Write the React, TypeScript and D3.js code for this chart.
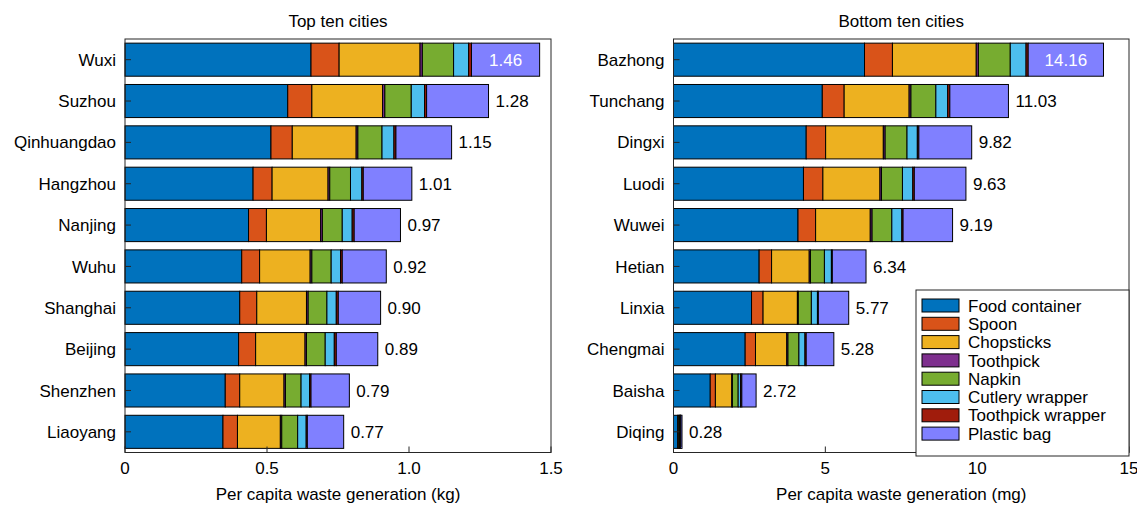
import React from "react";
import * as d3 from "d3";

// Waste categories, in stacking order
const categories = [
  "Food container",
  "Spoon",
  "Chopsticks",
  "Toothpick",
  "Napkin",
  "Cutlery wrapper",
  "Toothpick wrapper",
  "Plastic bag",
];

const categoryColors = [
  "#0072BD",
  "#D95319",
  "#EDB120",
  "#7E2F8E",
  "#77AC30",
  "#4DBEEE",
  "#A01C0C",
  "#8080FF",
];

// Top ten cities (kg per capita)
const topCities = [
  "Wuxi", "Suzhou", "Qinhuangdao", "Hangzhou", "Nanjing",
  "Wuhu", "Shanghai", "Beijing", "Shenzhen", "Liaoyang",
];
const topTotals = [1.46, 1.28, 1.15, 1.01, 0.97, 0.92, 0.9, 0.89, 0.79, 0.77];
// per city: food container, spoon, chopsticks, toothpick, napkin, cutlery wrapper, toothpick wrapper, plastic bag
const topBreakdown = [
  [0.655, 0.099, 0.285, 0.008, 0.110, 0.053, 0.010, 0.240],
  [0.573, 0.085, 0.249, 0.008, 0.093, 0.047, 0.007, 0.218],
  [0.514, 0.075, 0.225, 0.006, 0.085, 0.042, 0.007, 0.196],
  [0.451, 0.067, 0.197, 0.006, 0.073, 0.040, 0.005, 0.171],
  [0.435, 0.063, 0.191, 0.006, 0.070, 0.035, 0.007, 0.163],
  [0.411, 0.063, 0.178, 0.006, 0.068, 0.033, 0.006, 0.155],
  [0.404, 0.060, 0.175, 0.006, 0.066, 0.033, 0.007, 0.149],
  [0.400, 0.060, 0.174, 0.005, 0.066, 0.032, 0.007, 0.146],
  [0.353, 0.051, 0.156, 0.005, 0.055, 0.030, 0.005, 0.135],
  [0.345, 0.051, 0.151, 0.005, 0.056, 0.030, 0.004, 0.128],
];
const topTicks = [0, 0.5, 1.0, 1.5];
const topTickLabels = ["0", "0.5", "1.0", "1.5"];

// Bottom ten cities (mg per capita)
const bottomCities = [
  "Bazhong", "Tunchang", "Dingxi", "Luodi", "Wuwei",
  "Hetian", "Linxia", "Chengmai", "Baisha", "Diqing",
];
const bottomTotals = [14.16, 11.03, 9.82, 9.63, 9.19, 6.34, 5.77, 5.28, 2.72, 0.28];
const bottomBreakdown = [
  [6.29, 0.92, 2.76, 0.07, 1.05, 0.52, 0.07, 2.48],
  [4.90, 0.72, 2.14, 0.06, 0.82, 0.39, 0.07, 1.93],
  [4.37, 0.64, 1.90, 0.06, 0.72, 0.34, 0.05, 1.74],
  [4.28, 0.64, 1.88, 0.05, 0.69, 0.34, 0.05, 1.70],
  [4.10, 0.58, 1.80, 0.06, 0.65, 0.33, 0.04, 1.63],
  [2.82, 0.41, 1.24, 0.04, 0.46, 0.23, 0.03, 1.11],
  [2.57, 0.38, 1.13, 0.03, 0.43, 0.20, 0.03, 1.00],
  [2.36, 0.34, 1.03, 0.04, 0.36, 0.20, 0.04, 0.91],
  [1.21, 0.17, 0.54, 0.02, 0.19, 0.08, 0.04, 0.47],
  [0.14, 0.02, 0.04, 0.005, 0.02, 0.01, 0.005, 0.04],
];
const bottomTicks = [0, 5, 10, 15];
const bottomTickLabels = ["0", "5", "10", "15"];

const FONT = "'Liberation Sans', Arial, Helvetica, sans-serif";
const AXIS_COLOR = "#262626";

type PanelProps = {
  title: string;
  xLabel: string;
  cities: string[];
  totals: number[];
  breakdown: number[][];
  ticks: number[];
  tickLabels: string[];
  domainMax: number;
  x0: number;
  x1: number;
  showLegend?: boolean;
};

const TOP = 39;
const BOTTOM = 452.5;

function Panel(p: PanelProps) {
  const x = d3.scaleLinear().domain([0, p.domainMax]).range([p.x0, p.x1]);
  const y = d3
    .scaleBand<string>()
    .domain(p.cities)
    .range([TOP, BOTTOM])
    .paddingInner(0.2)
    .paddingOuter(0.1);

  const stacked = p.breakdown.map((row) => {
    const ends = d3.cumsum(row);
    return row.map((v, i) => ({ start: ends[i] - v, end: ends[i], i }));
  });

  const legendX = 916;
  const legendY = 290;
  const legendW = 1129 - legendX;
  const legendH = 456 - legendY;

  return (
    <g>
      <text
        x={(p.x0 + p.x1) / 2}
        y={27}
        textAnchor="middle"
        fontSize={17}
        fontFamily={FONT}
        fill="#000"
      >
        {p.title}
      </text>

      {/* stacked bars */}
      {p.cities.map((c, ci) => {
        const by = y(c)!;
        const bh = y.bandwidth();
        return (
          <g key={c}>
            {stacked[ci].map((s) => (
              <rect
                key={s.i}
                x={x(s.start)}
                y={by}
                width={Math.max(0, x(s.end) - x(s.start))}
                height={bh}
                fill={categoryColors[s.i]}
                stroke="#000"
                strokeWidth={1}
              />
            ))}
          </g>
        );
      })}

      {/* value labels */}
      {p.cities.map((c, ci) => {
        const by = y(c)! + y.bandwidth() / 2;
        const segs = stacked[ci];
        const last = segs[segs.length - 1];
        const inside = ci === 0;
        const lx = inside ? x((last.start + last.end) / 2) : x(p.totals[ci]) + 7;
        return (
          <text
            key={c}
            x={lx}
            y={by}
            dy="0.36em"
            textAnchor={inside ? "middle" : "start"}
            fontSize={17}
            fontFamily={FONT}
            fill={inside ? "#fff" : "#000"}
          >
            {p.totals[ci].toFixed(2)}
          </text>
        );
      })}

      {/* frame */}
      <rect
        x={p.x0}
        y={TOP}
        width={p.x1 - p.x0}
        height={BOTTOM - TOP}
        fill="none"
        stroke={AXIS_COLOR}
        strokeWidth={1}
      />

      {/* y ticks and labels */}
      {p.cities.map((c) => {
        const cy = y(c)! + y.bandwidth() / 2;
        return (
          <g key={c}>
            <line x1={p.x0} x2={p.x0 + 6} y1={cy} y2={cy} stroke={AXIS_COLOR} />
            <text
              x={p.x0 - 9}
              y={cy}
              dy="0.36em"
              textAnchor="end"
              fontSize={17}
              fontFamily={FONT}
              fill="#000"
            >
              {c}
            </text>
          </g>
        );
      })}

      {/* x ticks and labels */}
      {p.ticks.map((t, ti) => (
        <g key={t}>
          <line x1={x(t)} x2={x(t)} y1={BOTTOM} y2={BOTTOM - 6} stroke={AXIS_COLOR} />
          <text
            x={x(t)}
            y={468}
            dy="0.36em"
            textAnchor="middle"
            fontSize={17}
            fontFamily={FONT}
            fill="#000"
          >
            {p.tickLabels[ti]}
          </text>
        </g>
      ))}
      <text
        x={(p.x0 + p.x1) / 2}
        y={494}
        dy="0.36em"
        textAnchor="middle"
        fontSize={17}
        fontFamily={FONT}
        fill="#000"
      >
        {p.xLabel}
      </text>

      {p.showLegend && (
        <g>
          <rect
            x={legendX}
            y={legendY}
            width={legendW}
            height={legendH}
            fill="#fff"
            stroke={AXIS_COLOR}
            strokeWidth={1}
          />
          {categories.map((name, i) => {
            const cy = 305.5 + i * 18.3;
            return (
              <g key={name}>
                <rect
                  x={922}
                  y={cy - 6.5}
                  width={37}
                  height={13}
                  fill={categoryColors[i]}
                  stroke="#000"
                  strokeWidth={1}
                />
                <text
                  x={968}
                  y={cy}
                  dy="0.36em"
                  fontSize={17}
                  fontFamily={FONT}
                  fill="#000"
                >
                  {name}
                </text>
              </g>
            );
          })}
        </g>
      )}
    </g>
  );
}

export default function App() {
  return (
    <svg
      width={1137}
      height={505}
      style={{ position: "absolute", left: 0, top: 0, background: "#fff" }}
    >
      <rect width={1137} height={505} fill="#fff" />
      <Panel
        title="Top ten cities"
        xLabel="Per capita waste generation (kg)"
        cities={topCities}
        totals={topTotals}
        breakdown={topBreakdown}
        ticks={topTicks}
        tickLabels={topTickLabels}
        domainMax={1.5}
        x0={125}
        x1={551}
      />
      <Panel
        title="Bottom ten cities"
        xLabel="Per capita waste generation (mg)"
        cities={bottomCities}
        totals={bottomTotals}
        breakdown={bottomBreakdown}
        ticks={bottomTicks}
        tickLabels={bottomTickLabels}
        domainMax={15}
        x0={673.5}
        x1={1129}
        showLegend
      />
    </svg>
  );
}
